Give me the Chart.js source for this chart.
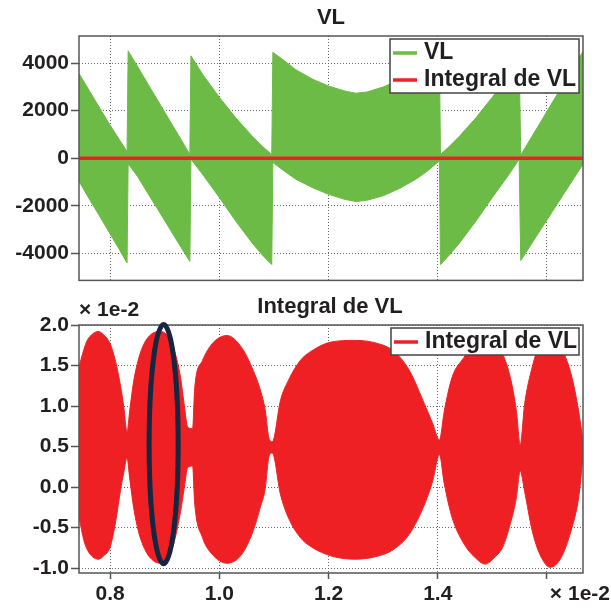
<!DOCTYPE html>
<html lang="fr">
<head>
<meta charset="UTF-8" />
<title>VL / Integral de VL</title>
<script src="https://cdn.jsdelivr.net/npm/chart.js"></script>
<style>
  body { margin: 0; background: #fff; }
  .panel { position: absolute; left: 0; width: 611px; }
  #top { top: 0; height: 295px; }
  #bottom { top: 295px; height: 314px; }
</style>
</head>
<body>
<div class="panel" id="top"><canvas id="vlChart" width="611" height="295"></canvas></div>
<div class="panel" id="bottom"><canvas id="intChart" width="611" height="314"></canvas></div>
<script>
// time axis is in units of 1e-2 s
const xTicks = [0.8, 1.0, 1.2, 1.4, 1.6];
const xTickLabels = ['0.8', '1.0', '1.2', '1.4', ''];
const vlTicks = [-4000, -2000, 0, 2000, 4000];
const intTicks = [-1.0, -0.5, 0.0, 0.5, 1.0, 1.5, 2.0];

// VL: upper and lower edge of the switching band
const vlTime = [0.743, 0.762, 0.782, 0.800, 0.815, 0.831,
  0.833, 0.850, 0.870, 0.890, 0.910, 0.930, 0.946,
  0.948, 0.970, 1.000, 1.030, 1.060, 1.080, 1.096,
  1.098, 1.120, 1.140, 1.170, 1.200, 1.230, 1.250, 1.270, 1.300, 1.330, 1.360, 1.380, 1.403,
  1.405, 1.420, 1.440, 1.470, 1.500, 1.530, 1.549,
  1.552, 1.570, 1.590, 1.610, 1.630, 1.650, 1.666];
const vlHigh = [3560, 2830, 2070, 1380, 850, 277,
  4510, 3860, 3090, 2320, 1550, 780, 160,
  4300, 3500, 2560, 1700, 930, 470, 160,
  4450, 4080, 3720, 3330, 3030, 2820, 2730, 2780, 2990, 3300, 3700, 4020, 4430,
  160, 470, 930, 1700, 2560, 3500, 4300,
  130, 820, 1580, 2350, 3110, 3880, 4490];
const vlLow = [-965, -1720, -2480, -3180, -3760, -4400,
  -230, -760, -1510, -2250, -3000, -3750, -4340,
  -40, -700, -1650, -2640, -3560, -4100, -4470,
  -180, -560, -880, -1230, -1520, -1730, -1820, -1770, -1580, -1270, -880, -560, -120,
  -4470, -4100, -3560, -2640, -1650, -700, -40,
  -4300, -3660, -2950, -2240, -1530, -820, -250];

// Integral de VL (x 1e-2): upper and lower edge of the band
const intTime = [0.743, 0.752, 0.758, 0.768, 0.778, 0.788, 0.800, 0.810, 0.819, 0.825, 0.831,
  0.836, 0.843, 0.852, 0.863, 0.876, 0.892, 0.906, 0.918, 0.929, 0.936, 0.942, 0.951,
  0.955, 0.969, 0.987, 1.014, 1.041, 1.062, 1.075, 1.084, 1.091,
  1.097, 1.112, 1.126, 1.148, 1.169, 1.205, 1.249, 1.291, 1.319, 1.348, 1.376, 1.391, 1.403,
  1.412, 1.426, 1.448, 1.467, 1.487, 1.505, 1.519, 1.533, 1.544, 1.551,
  1.559, 1.573, 1.587, 1.606, 1.626, 1.644, 1.658, 1.666];
const intHigh = [1.48, 1.70, 1.81, 1.89, 1.92, 1.88, 1.77, 1.55, 1.25, 0.99, 0.68,
  0.95, 1.30, 1.58, 1.78, 1.89, 1.92, 1.86, 1.68, 1.35, 1.00, 0.74, 0.72,
  1.23, 1.56, 1.77, 1.87, 1.72, 1.44, 1.20, 0.95, 0.60,
  0.56, 1.07, 1.31, 1.56, 1.68, 1.79, 1.81, 1.77, 1.68, 1.44, 1.02, 0.78, 0.58,
  0.94, 1.35, 1.60, 1.78, 1.86, 1.78, 1.64, 1.35, 0.94, 0.52,
  1.02, 1.48, 1.77, 1.87, 1.72, 1.40, 0.94, 0.57];
const intLow = [-0.37, -0.66, -0.77, -0.86, -0.89, -0.85, -0.74, -0.43, -0.04, 0.18, 0.36,
  0.10, -0.25, -0.55, -0.76, -0.89, -0.94, -0.88, -0.66, -0.30, 0.00, 0.24, 0.26,
  -0.21, -0.62, -0.83, -0.94, -0.83, -0.54, -0.25, -0.02, 0.38,
  0.42, -0.09, -0.37, -0.62, -0.74, -0.85, -0.89, -0.85, -0.77, -0.58, -0.21, 0.08, 0.40,
  0.04, -0.37, -0.70, -0.86, -0.95, -0.86, -0.74, -0.45, -0.13, 0.20,
  -0.05, -0.54, -0.83, -0.99, -0.87, -0.54, -0.13, 0.37];

// circled lobe on the lower plot (centre and half-axes, data units)
const circled = { t: 0.898, v: 0.53, dt: 0.0266, dv: 1.475 };

const GREEN = '#6cbb46';
const RED = '#ee2024';
const INK = '#231f20';
const FONT = '"Liberation Sans", Arial, sans-serif';

Chart.defaults.font.family = FONT;
Chart.defaults.font.weight = 'bold';
Chart.defaults.font.size = 21;
Chart.defaults.color = INK;
Chart.defaults.animation = false;

const pts = (xs, ys, k = 1) => xs.map((x, i) => ({ x: x, y: ys[i] * k }));

function xAxis(showLabels) {
  return {
    type: 'linear', min: 0.743, max: 1.666,
    afterBuildTicks: s => { s.ticks = xTicks.map(v => ({ value: v })); },
    afterFit: s => { s.height = showLabels ? 36 : 11; },
    ticks: { display: showLabels, padding: 3, maxRotation: 0, autoSkip: false,
             callback: (v, i) => xTickLabels[i] },
    grid: { color: '#666', drawTicks: showLabels, tickLength: 6, tickColor: '#555', tickWidth: 1.5 },
    border: { display: false, dash: [1, 2] }
  };
}

function yAxis(min, max, ticks, fmt) {
  return {
    type: 'linear', min: min, max: max,
    afterBuildTicks: s => { s.ticks = ticks.map(v => ({ value: v })); },
    afterFit: s => { s.width = 79; },
    ticks: { padding: 2, callback: fmt },
    grid: { color: '#666', tickLength: 8, tickColor: '#555', tickWidth: 1.5 },
    border: { display: false, dash: [1, 2] }
  };
}

// frame, legend box, titles and the ellipse
function overlay(cfg) {
  return {
    id: 'overlay',
    afterDraw(chart) {
      const { ctx, chartArea: a, scales } = chart;
      ctx.save();
      ctx.strokeStyle = '#555';
      ctx.lineWidth = 1.5;
      ctx.strokeRect(a.left, a.top, a.right - a.left, a.bottom - a.top);

      if (cfg.ellipse) {
        const e = cfg.ellipse;
        const cx = scales.x.getPixelForValue(e.t);
        const cy = scales.y.getPixelForValue(e.v);
        const rx = Math.abs(scales.x.getPixelForValue(e.t + e.dt) - cx);
        const ry = Math.abs(scales.y.getPixelForValue(e.v + e.dv) - cy);
        ctx.beginPath();
        ctx.ellipse(cx, cy, rx, ry, 0, 0, Math.PI * 2);
        ctx.strokeStyle = '#142640';
        ctx.lineWidth = 5;
        ctx.stroke();
      }

      const lg = cfg.legend;
      ctx.fillStyle = '#fff';
      ctx.fillRect(lg.x, lg.y, lg.w, lg.h);
      ctx.strokeStyle = '#444';
      ctx.lineWidth = 1.5;
      ctx.strokeRect(lg.x, lg.y, lg.w, lg.h);
      ctx.font = 'bold 23px ' + FONT;
      ctx.textBaseline = 'middle';
      ctx.textAlign = 'left';
      lg.items.forEach((it, i) => {
        const y = lg.y + 14 + i * 27;
        ctx.strokeStyle = it.color;
        ctx.lineWidth = 3.5;
        ctx.beginPath();
        ctx.moveTo(lg.x + 3, y);
        ctx.lineTo(lg.x + 27, y);
        ctx.stroke();
        ctx.fillStyle = INK;
        ctx.fillText(it.text, lg.x + 34, y);
      });

      cfg.texts.forEach(t => {
        ctx.font = 'bold ' + t.size + 'px ' + FONT;
        ctx.textAlign = t.align;
        ctx.fillStyle = INK;
        ctx.fillText(t.text, t.x, t.y);
      });
      ctx.restore();
    }
  };
}

new Chart(document.getElementById('vlChart'), {
  type: 'line',
  data: {
    datasets: [
      { label: 'VL', data: pts(vlTime, vlHigh), borderColor: GREEN, borderWidth: 1,
        pointRadius: 0, fill: false, order: 1 },
      { label: 'VL', data: pts(vlTime, vlLow), borderColor: GREEN, backgroundColor: GREEN,
        borderWidth: 1, pointRadius: 0, fill: '-1', order: 1 },
      { label: 'Integral de VL', data: pts(intTime, intHigh, 1e-2), borderColor: RED,
        borderWidth: 3.5, pointRadius: 0, fill: false, order: 0 }
    ]
  },
  options: {
    responsive: false,
    events: [],
    layout: { padding: { top: 36, right: 28, bottom: 0, left: 0 } },
    plugins: { legend: { display: false }, tooltip: { enabled: false } },
    scales: {
      x: xAxis(false),
      y: yAxis(-5135, 5135, vlTicks, v => String(v))
    }
  },
  plugins: [overlay({
    legend: { x: 390, y: 39, w: 189, h: 54,
              items: [{ text: 'VL', color: GREEN }, { text: 'Integral de VL', color: RED }] },
    texts: [{ text: 'VL', x: 331, y: 18, size: 22, align: 'center' }]
  })]
});

new Chart(document.getElementById('intChart'), {
  type: 'line',
  data: {
    datasets: [
      { label: 'Integral de VL', data: pts(intTime, intHigh), borderColor: RED, borderWidth: 1,
        pointRadius: 0, fill: false, cubicInterpolationMode: 'monotone' },
      { label: 'Integral de VL', data: pts(intTime, intLow), borderColor: RED, backgroundColor: RED,
        borderWidth: 1, pointRadius: 0, fill: '-1', cubicInterpolationMode: 'monotone' }
    ]
  },
  options: {
    responsive: false,
    events: [],
    layout: { padding: { top: 30, right: 28, bottom: 0, left: 0 } },
    plugins: { legend: { display: false }, tooltip: { enabled: false } },
    scales: {
      x: xAxis(true),
      y: yAxis(-1.06, 2.0, intTicks, v => v.toFixed(1))
    }
  },
  plugins: [overlay({
    ellipse: circled,
    legend: { x: 391, y: 33, w: 188, h: 27,
              items: [{ text: 'Integral de VL', color: RED }] },
    texts: [
      { text: 'Integral de VL', x: 330, y: 12, size: 22, align: 'center' },
      { text: '× 1e-2', x: 79, y: 15, size: 21, align: 'left' },
      { text: '× 1e-2', x: 610, y: 299, size: 21, align: 'right' }
    ]
  })]
});
</script>
</body>
</html>
